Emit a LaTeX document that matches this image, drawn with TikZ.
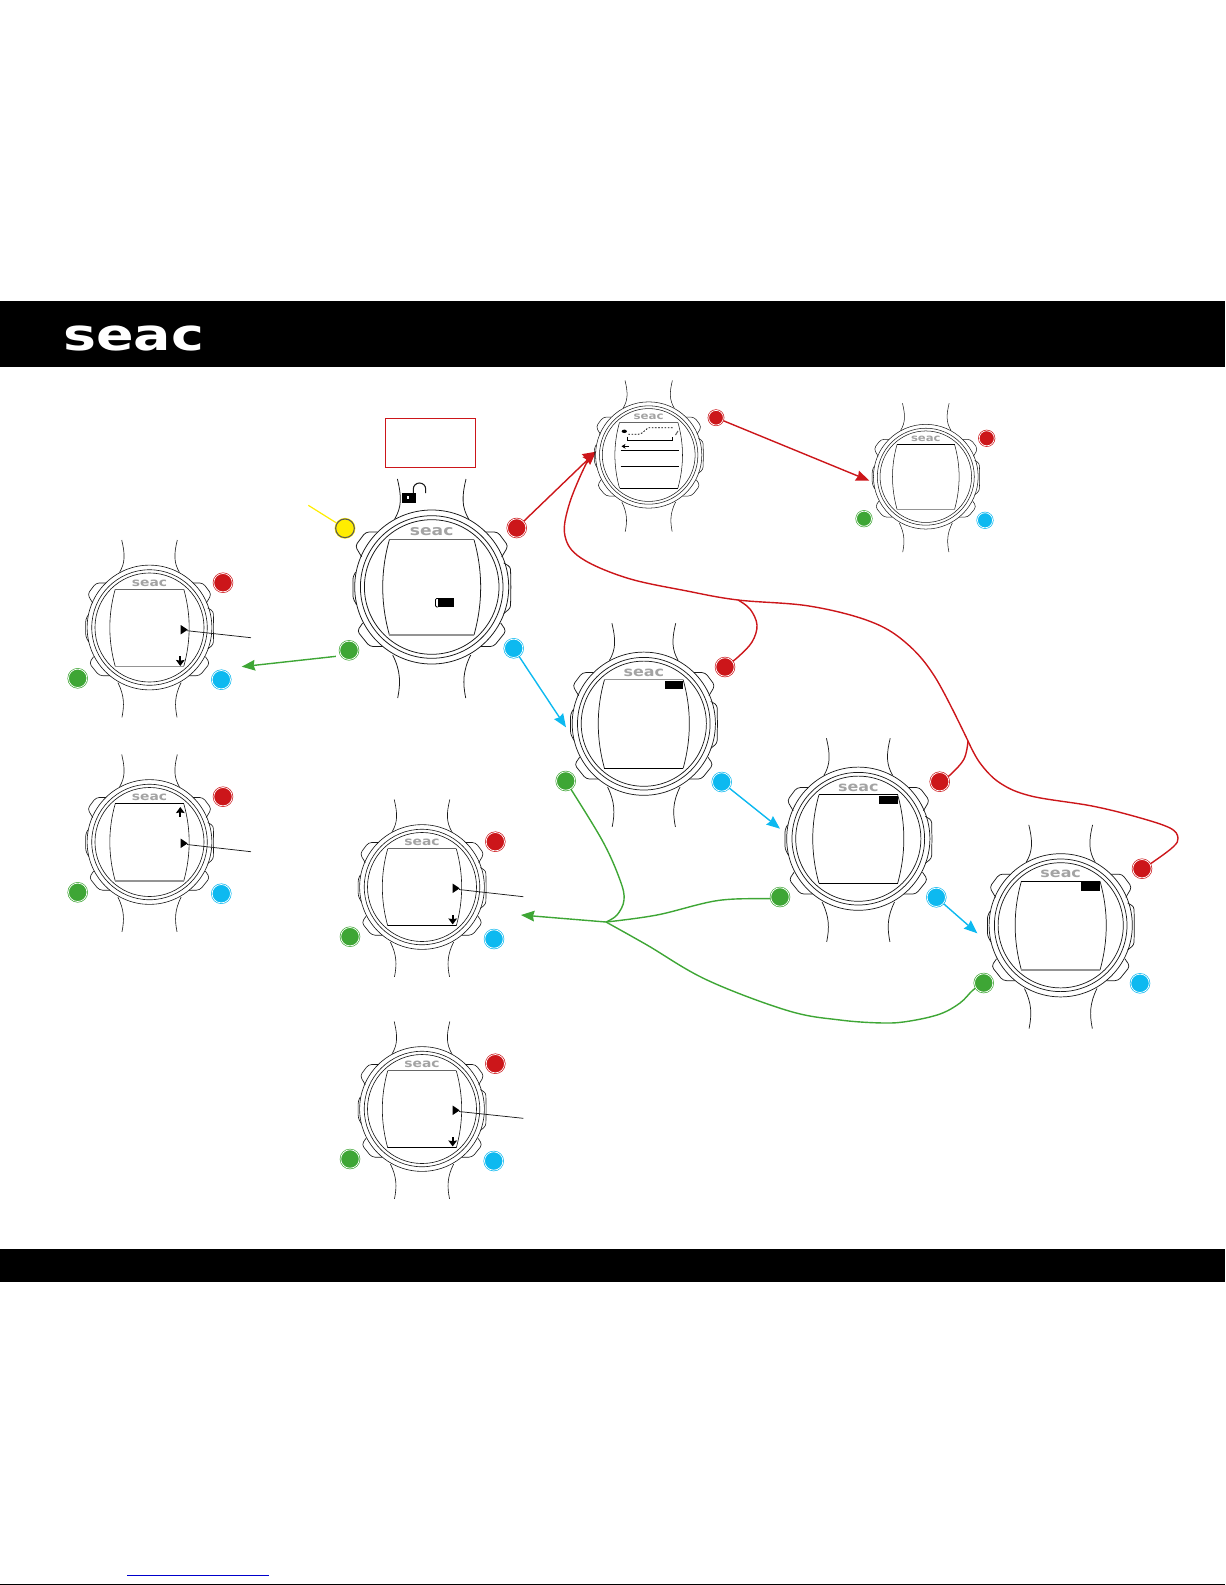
\documentclass[tikz,border=0pt]{standalone}
\usepackage{fontspec}
\setmainfont{DejaVu Sans}
\usetikzlibrary{arrows.meta}
\definecolor{sred}{RGB}{204,22,26}
\definecolor{sgreen}{RGB}{62,166,53}
\definecolor{scyan}{RGB}{13,185,240}
\definecolor{syellow}{RGB}{255,237,0}
\definecolor{slink}{RGB}{0,0,204}
\pgfdeclarelayer{links}
\pgfsetlayers{links,main}
\tikzset{
  wline/.style={black!90,line width=.55pt},
  edgeK/.style={black,line width=.65pt},
  edgeG/.style={black!42,line width=1.1pt},
  edgeT/.style={black!60,line width=.7pt},
  logotext/.style={inner sep=0pt,text=black!36,transform shape,xscale=1.2,font=\fontsize{10.7}{11}\selectfont\bfseries},
  btn/.style={circle,inner sep=0pt,minimum size=#1,line width=.5pt,double=white,double distance=.55pt},
  rbtn/.style={btn=#1,fill=sred,draw=sred},
  gbtn/.style={btn=#1,fill=sgreen,draw=sgreen},
  cbtn/.style={btn=#1,fill=scyan,draw=scyan},
  rbtn/.default=13.8pt, gbtn/.default=13.8pt, cbtn/.default=13.8pt,
  head/.style={-{Stealth[length=10pt,width=8pt,inset=1pt]}},
  clink/.style={line width=1.05pt,line join=round,#1},
}
\newcommand\watchbody[6]{%
\begin{scope}[shift={(#2,#3)},scale=#4,wline/.append style={line width=#4*.58pt}]
  \foreach \m in {1,-1}{
    \begin{scope}[xscale=\m]
      \draw[wline] (34.3,-108) .. controls (30,-90) and (30,-80) .. (37,-68);
      \draw[wline] (39,68) .. controls (31,84) and (31,96) .. (34,111);
      \draw[wline,rounded corners=2.5pt] (54,-55) -- (66,-55) -- (76.5,-41) -- (70,-30);
      \draw[wline,rounded corners=2.5pt] (69,36) -- (74.5,44) -- (62,59.5) -- (49,59.5);
      \draw[wline] (42.3,-47.3) .. controls (51.2,-16) and (51.2,16) .. (42.3,48);
    \end{scope}
  }
  \draw[wline,rounded corners=2pt] (72,-24) -- (78.8,-20) -- (79.2,0) -- (78.8,21) -- (72,26.5);
  \draw[wline,rounded corners=2pt] (-76,-15) -- (-78.8,-10) -- (-78.8,11) -- (-75,18);
  \draw[wline] (0,0) circle [radius=77];
  \draw[wline] (0,0) circle [radius=71.3];
  \draw[wline] (0,0) circle [radius=67.3];
  \draw[#5] (-42.3,-47.3) -- (42.3,-47.3);
  \draw[#6] (-42.3,48) -- (42.3,48);
  \node[logotext] (#1logo) at (0,-55) {seac};
\end{scope}}
\newcommand\tri[2]{\fill[black] (#1,#2-4.7) -- (#1+7,#2) -- (#1,#2+4.7) -- cycle;}
\begin{document}
\begin{tikzpicture}[x=.75pt,y=-.75pt]
\useasboundingbox (0,0) rectangle (1225,1585);
% bands
\fill[black] (0,301) rectangle (1225,367.3);
\fill[black] (0,1249) rectangle (1225,1281.6);
\fill[black] (0,1584) rectangle (1225,1585);
\fill[slink] (127,1575) rectangle (268.7,1576);
\node[text=white,inner sep=0pt,xscale=1.26,font=\fontsize{33}{34}\selectfont\bfseries] (headlogo) at (133.7,338.6) {seac};
% watches
\watchbody{wm}{431.7}{587}{1}{edgeT}{edgeG}
\watchbody{wa}{149.5}{627.5}{.81}{edgeT}{edgeG}
\watchbody{wb}{149.5}{842}{.81}{edgeK}{edgeG}
\watchbody{wc}{422}{887}{.81}{edgeT}{edgeK}
\watchbody{wd}{422}{1109}{.81}{edgeT}{edgeK}
\watchbody{we}{648.7}{455}{.69}{edgeT}{edgeK}
\watchbody{wf}{925.8}{476.7}{.68}{edgeK}{edgeG}
\watchbody{wg}{643.8}{723.7}{.93}{edgeG}{edgeK}
\watchbody{wh}{858.3}{838.7}{.93}{edgeK}{edgeK}
\watchbody{wi}{1060.7}{925.3}{.93}{edgeK}{edgeG}
% red box
\draw[sred,line width=.85pt] (385.7,418.7) rectangle (475.7,467.3);
% lock
\fill[black] (401.7,492.7) rectangle (415.7,502.7);
\fill[white] (406.5,496) rectangle (409,498.5);
\draw[wline,line width=.8pt] (413.3,493) -- (413.3,489) arc [start angle=180,end angle=0,x radius=6.2,y radius=-6] -- (425.7,493);
% battery
\fill[black] (438,598) rectangle (454,607.3);
\draw[black,line width=.6pt,rounded corners=1pt] (438,598.4) -- (435.4,598.4) -- (435.4,607) -- (438,607);
% tags
\fill[black] (665,681) rectangle (683.3,689);
\fill[black] (879,795.7) rectangle (898.3,804);
\fill[black] (1081,882.3) rectangle (1100,891);
% screen content of watch E
\draw[black,line width=.6pt,dash pattern=on 1.2pt off 1.2pt] (628.3,434.3) -- (638.3,434.3) -- (642,433) -- (648.3,427.7) -- (672.7,427.7);
\draw[black,line width=.65pt] (627.7,436.7) -- (627.7,440.3) -- (672.3,440.3) -- (672.3,436.7);
\fill[black] (624.3,431.3) ellipse [x radius=2.6,y radius=1.7];
\draw[black!60,line width=.8pt] (678,431) -- (675.5,435);
\draw[black,line width=.9pt,-{Stealth[length=3pt,width=3.6pt]}] (629,446.3) -- (621.5,446.3);
\draw[edgeK] (620.7,450.3) -- (679,450.3);
\draw[edgeK] (620.7,466.3) -- (679,466.3);
% markers and pointer lines
\tri{180.7}{629.7}
\tri{180.7}{843.3}
\tri{452.7}{888.3}
\tri{452.7}{1110.3}
\coordinate (pa1) at (187,630.7); \coordinate (pa2) at (251,637.7);
\coordinate (pb1) at (187,844.5); \coordinate (pb2) at (251,851.7);
\coordinate (pc1) at (459,889.5); \coordinate (pc2) at (523.3,896.7);
\coordinate (pd1) at (459,1111.5); \coordinate (pd2) at (523.3,1118.3);
\draw[wline] (pa1) -- (pa2); \draw[wline] (pb1) -- (pb2); \draw[wline] (pc1) -- (pc2); \draw[wline] (pd1) -- (pd2);
\foreach \ax/\ay/\bx/\by in {180.3/656/180.3/666, 180.3/817/180.3/807, 452.7/915/452.7/924.5, 452.7/1137/452.7/1146.5}
  \draw[black,line width=1.4pt,-{Stealth[length=4.5pt,width=6.4pt,inset=.5pt]}] (\ax,\ay) -- (\bx,\by);
% buttons
\node[circle,inner sep=0pt,minimum size=14pt,fill=syellow,draw=black!65,line width=.8pt,preaction={draw=syellow,line width=1.6pt}] (my) at (345,528.3) {};
\node[rbtn] (mR) at (516.7,528) {};
\node[gbtn] (mG) at (349,650.3) {};
\node[cbtn] (mC) at (513.7,648.3) {};
\node[rbtn] (aR) at (223,582.7) {};
\node[gbtn] (aG) at (77.7,678.3) {};
\node[cbtn] (aC) at (221.3,679.7) {};
\node[rbtn] (bR) at (223,796.7) {};
\node[gbtn] (bG) at (77.7,892.3) {};
\node[cbtn] (bC) at (221.3,893.7) {};
\node[rbtn] (cR) at (495.3,841.7) {};
\node[gbtn] (cG) at (350,936.7) {};
\node[cbtn] (cC) at (494,939) {};
\node[rbtn] (dR) at (495.3,1063.7) {};
\node[gbtn] (dG) at (350,1159) {};
\node[cbtn] (dC) at (493.7,1161) {};
\node[rbtn=11pt] (eR) at (716,417.7) {};
\node[rbtn=11.3pt] (fR) at (986.7,438.3) {};
\node[gbtn=11.3pt] (fG) at (864,518.7) {};
\node[cbtn=11.3pt] (fC) at (985,520.3) {};
\node[rbtn] (gR) at (725,667) {};
\node[gbtn] (gG) at (565.7,781) {};
\node[cbtn] (gC) at (721.7,782) {};
\node[rbtn] (hR) at (939.7,781.7) {};
\node[gbtn] (hG) at (780,897) {};
\node[cbtn] (hC) at (936.3,897.3) {};
\node[rbtn] (iR) at (1142,868.7) {};
\node[gbtn] (iG) at (983.7,983) {};
\node[cbtn] (iC) at (1140,983.3) {};
% connector end points
\coordinate (yEnd) at (308.3,505.3);
\coordinate (eTip) at (596,451.7);
\coordinate (fTip) at (869.3,480.7);
\coordinate (gTip) at (566,727.3);
\coordinate (hTip) at (780,828.7);
\coordinate (iTip) at (977.3,933.3);
\coordinate (aTip) at (241.7,666.7);
\coordinate (cTip) at (521,915);
\coordinate (jG) at (606,922);
\coordinate (jR) at (968,741);
\begin{pgfonlayer}{links}
\draw[line width=.9pt,syellow] (yEnd) -- (my);
\draw[clink=sred,head] (mR) -- (eTip);
\draw[clink=sred,head] (eR) -- (fTip);
\draw[clink=scyan,head] (mC) -- (gTip);
\draw[clink=scyan,head] (gC) -- (hTip);
\draw[clink=scyan,head] (hC) -- (iTip);
\draw[clink=sgreen,head,shorten <=4pt] (mG.215) -- (aTip);
\draw[clink=sgreen,head] (jG) -- (cTip);
% red trunk
\draw[clink=sred,head] plot[smooth,tension=.6] coordinates {(jR) (935,677) (905,642) (869,621) (809,606) (738,600) (687,591) (627,578) (581,558) (565,536) (569,505) (586,464) (eTip)};
\draw[clink=sred] plot[smooth,tension=.6] coordinates {(gR) (738,657) (752,642) (757,625) (750,609) (738,600)};
\draw[clink=sred] plot[smooth,tension=.6] coordinates {(hR) (950,775) (964,759) (968,741)};
\draw[clink=sred] plot[smooth,tension=.6] coordinates {(iR) (1153,862) (1173,847) (1178,838) (1170,828) (1137,817) (1092,806) (1031,796) (1000,783) (980,763) (jR)};
% green branches
\draw[clink=sgreen] plot[smooth,tension=.6] coordinates {(gG) (602,840) (620,880) (624,900) (617,915) (jG)};
\draw[clink=sgreen] plot[smooth,tension=.6] coordinates {(hG) (771,898.5) (718,900.5) (657,915) (jG)};
\draw[clink=sgreen] plot[smooth,tension=.6] coordinates {(iG) (973,990) (960,1003) (940,1014) (910,1021) (884,1023) (840,1020) (788,1010.7) (707,980) (647,945) (jG)};
\end{pgfonlayer}
\end{tikzpicture}
\end{document}
